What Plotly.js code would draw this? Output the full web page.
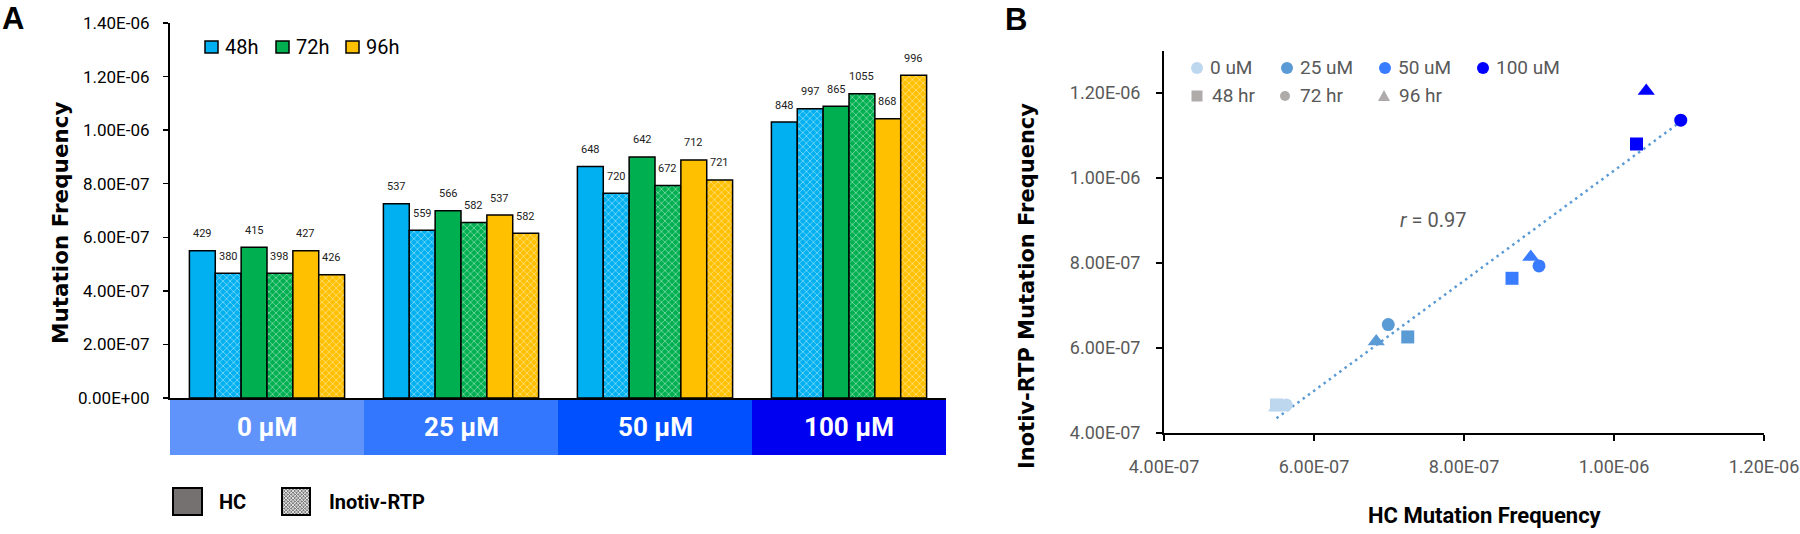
<!DOCTYPE html>
<html><head><meta charset="utf-8">
<script src="https://cdn.plot.ly/plotly-3.0.1.min.js"></script>
<style>html,body{margin:0;padding:0;background:#fff;}#chart{width:1800px;height:534px;}</style>
</head><body><div id="chart"></div>
<script>
// ---------- DATA ----------
const concentrations = ["0 µM", "25 µM", "50 µM", "100 µM"];
const concLegend = ["0 uM", "25 uM", "50 uM", "100 uM"];
const times = ["48h", "72h", "96h"];
const timeLegend = ["48 hr", "72 hr", "96 hr"];
const assays = ["HC", "Inotiv-RTP"];

// Mutation frequency per concentration (0, 25, 50, 100 µM)
const hc48  = [5.50e-7, 7.25e-7, 8.64e-7, 1.030e-6];
const rtp48 = [4.66e-7, 6.26e-7, 7.64e-7, 1.080e-6];
const hc72  = [5.63e-7, 6.99e-7, 9.00e-7, 1.089e-6];
const rtp72 = [4.66e-7, 6.55e-7, 7.93e-7, 1.136e-6];
const hc96  = [5.50e-7, 6.83e-7, 8.89e-7, 1.043e-6];
const rtp96 = [4.60e-7, 6.15e-7, 8.14e-7, 1.205e-6];

// Mutant counts shown above bars
const nHc48  = [429, 537, 648, 848];
const nRtp48 = [380, 559, 720, 997];
const nHc72  = [415, 566, 642, 865];
const nRtp72 = [398, 582, 672, 1055];
const nHc96  = [427, 537, 712, 868];
const nRtp96 = [426, 582, 721, 996];

const correlationText = "<i>r</i> = 0.97";

// Tick values / labels
const yTickValsA = [0, 2e-7, 4e-7, 6e-7, 8e-7, 1e-6, 1.2e-6, 1.4e-6];
const yTickTextA = ["0.00E+00", "2.00E-07", "4.00E-07", "6.00E-07", "8.00E-07", "1.00E-06", "1.20E-06", "1.40E-06"];
const xTickValsB = [4e-7, 6e-7, 8e-7, 1e-6, 1.2e-6];
const xTickTextB = ["4.00E-07", "6.00E-07", "8.00E-07", "1.00E-06", "1.20E-06"];
const yTickValsB = [4e-7, 6e-7, 8e-7, 1e-6, 1.2e-6];
const yTickTextB = ["4.00E-07", "6.00E-07", "8.00E-07", "1.00E-06", "1.20E-06"];

// ---------- STYLE ----------
const W = 1800, H = 534;
const PX = x => x / W;
const PY = y => 1 - y / H;
const timeColors = ["#00B0F0", "#00B050", "#FFC000"];
const bandColors = ["#6194FA", "#3377FF", "#0050FF", "#0000F0"];
const concColors = ["#BDD7EE", "#5B9BD5", "#3A7CFF", "#0000FF"];
const timeSymbols = ["square", "circle", "triangle-up"];
const timeSizes = [13, 13, 15];
const FONT = "Roboto, 'Noto Sans', sans-serif";
const GRAY = "#595959";

const series = [
  {y: hc48, n: nHc48, t: 0, rtp: false},
  {y: rtp48, n: nRtp48, t: 0, rtp: true},
  {y: hc72, n: nHc72, t: 1, rtp: false},
  {y: rtp72, n: nRtp72, t: 1, rtp: true},
  {y: hc96, n: nHc96, t: 2, rtp: false},
  {y: rtp96, n: nRtp96, t: 2, rtp: true}
];
const idx = concentrations.map((c, i) => i);
const bargap = 0.2;
const barW = (1 - bargap) / series.length;

const traces = [];
const annotations = [];
const shapes = [];

function ann(o) {
  return Object.assign({xref: "paper", yref: "paper", showarrow: false, xanchor: "center", yanchor: "middle"}, o);
}

series.forEach((s, k) => {
  const c = timeColors[s.t];
  const marker = {color: c, line: {color: "#000", width: 1.5}};
  if (s.rtp) marker.pattern = {shape: "x", fgcolor: "#ffffff", size: 5, solidity: 0.3, fillmode: "overlay"};
  traces.push({type: "bar", x: idx, y: s.y, xaxis: "x", yaxis: "y", marker: marker,
    showlegend: false, hoverinfo: "skip", name: times[s.t] + " " + (s.rtp ? assays[1] : assays[0])});
  s.y.forEach((v, i) => {
    annotations.push(ann({xref: "x", yref: "y", x: i - (1 - bargap) / 2 + (k + 0.5) * barW, y: v,
      yshift: 17, text: String(s.n[i]), font: {family: FONT, size: 11, color: "#222"}}));
  });
});

// category band under panel A
concentrations.forEach((c, i) => {
  shapes.push({type: "rect", xref: "x", yref: "paper", x0: i - 0.5, x1: i + 0.5, y0: PY(455), y1: PY(398),
    fillcolor: bandColors[i], line: {width: 0}, layer: "below"});
  annotations.push(ann({xref: "x", x: i, y: PY(427), text: "<b>" + c + "</b>",
    font: {family: FONT, size: 26, color: "#fff"}}));
});

// panel A time legend
const timeLegX = [205, 276, 346];
times.forEach((t, i) => {
  shapes.push({type: "rect", xref: "paper", yref: "paper", x0: PX(timeLegX[i]), x1: PX(timeLegX[i] + 13),
    y0: PY(53), y1: PY(41), fillcolor: timeColors[i], line: {color: "#000", width: 1.5}});
  annotations.push(ann({x: PX(timeLegX[i] + 18), y: PY(47), xanchor: "left",
    text: t, font: {family: FONT, size: 20, color: "#000"}}));
});

// panel A assay legend (HC solid, Inotiv-RTP hatched)
shapes.push({type: "rect", xref: "paper", yref: "paper", x0: PX(173), x1: PX(202), y0: PY(515), y1: PY(488),
  fillcolor: "#767171", line: {color: "#000", width: 2}});
shapes.push({type: "rect", xref: "paper", yref: "paper", x0: PX(282), x1: PX(310), y0: PY(515), y1: PY(488),
  fillcolor: "#7f7f7f", line: {width: 0}});
(function () {
  const bw = 28, bh = 27, step = 3.5;
  let p = "";
  for (let d = -bh; d <= bw; d += step) {
    const xa = Math.max(0, d), xb = Math.min(bw, bh + d);
    if (xb > xa) p += `M${xa},${xa - d}L${xb},${xb - d}`;
  }
  for (let d = 0; d <= bw + bh; d += step) {
    const xa = Math.max(0, d - bh), xb = Math.min(bw, d);
    if (xb > xa) p += `M${xa},${d - xa}L${xb},${d - xb}`;
  }
  shapes.push({type: "path", xref: "paper", yref: "paper", xsizemode: "pixel", ysizemode: "pixel",
    xanchor: PX(282), yanchor: PY(515), path: p, line: {color: "#e8e8e8", width: 0.9}});
})();
shapes.push({type: "rect", xref: "paper", yref: "paper", x0: PX(282), x1: PX(310), y0: PY(515), y1: PY(488),
  fillcolor: "rgba(0,0,0,0)", line: {color: "#000", width: 2}});
annotations.push(ann({x: PX(217), y: PY(502), xanchor: "left",
  text: "<b>" + assays[0] + "</b>", font: {family: FONT, size: 20, color: "#000"}}));
annotations.push(ann({x: PX(327), y: PY(502), xanchor: "left",
  text: "<b>" + assays[1] + "</b>", font: {family: FONT, size: 20, color: "#000"}}));

// ---------- PANEL B ----------
const hcAll = [hc48, hc72, hc96];
const rtpAll = [rtp48, rtp72, rtp96];
const xs = [].concat(...hcAll), ys = [].concat(...rtpAll);
const mx = xs.reduce((a, b) => a + b, 0) / xs.length;
const my = ys.reduce((a, b) => a + b, 0) / ys.length;
let sxy = 0, sxx = 0;
xs.forEach((x, i) => { sxy += (x - mx) * (ys[i] - my); sxx += (x - mx) * (x - mx); });
const slope = sxy / sxx, intercept = my - slope * mx;
const xmin = Math.min(...xs), xmax = Math.max(...xs);
traces.push({type: "scatter", mode: "lines", x: [xmin, xmax], y: [intercept + slope * xmin, intercept + slope * xmax],
  xaxis: "x2", yaxis: "y2", line: {color: "#5B9BD5", width: 2.5, dash: "2.5px,4px"}, showlegend: false, hoverinfo: "skip"});
timeLegend.forEach((t, ti) => {
  traces.push({type: "scatter", mode: "markers", x: hcAll[ti], y: rtpAll[ti], xaxis: "x2", yaxis: "y2",
    marker: {symbol: timeSymbols[ti], size: timeSizes[ti], color: concColors, line: {width: 0}},
    showlegend: false, name: t, hoverinfo: "skip"});
});

// panel B legend rows
const concLegX = [1197, 1287, 1385, 1483];
concLegend.forEach((c, i) => {
  shapes.push({type: "circle", xref: "paper", yref: "paper", xsizemode: "pixel", ysizemode: "pixel",
    xanchor: PX(concLegX[i]), yanchor: PY(68), x0: -6, x1: 6, y0: -6, y1: 6, fillcolor: concColors[i], line: {width: 0}});
  annotations.push(ann({x: PX(concLegX[i] + 11), y: PY(68), xanchor: "left",
    text: c, font: {family: FONT, size: 19, color: GRAY}}));
});
const timeLegBX = [1197, 1285, 1384];
const legGray = "#AFABAB";
const legPaths = ["M-5.5,-5.5L5.5,-5.5L5.5,5.5L-5.5,5.5Z", "", "M-6,-5L6,-5L0,6Z"];
timeLegend.forEach((t, i) => {
  if (i === 1) {
    shapes.push({type: "circle", xref: "paper", yref: "paper", xsizemode: "pixel", ysizemode: "pixel",
      xanchor: PX(timeLegBX[i]), yanchor: PY(96), x0: -5, x1: 5, y0: -5, y1: 5, fillcolor: legGray, line: {width: 0}});
  } else {
    shapes.push({type: "path", xref: "paper", yref: "paper", xsizemode: "pixel", ysizemode: "pixel",
      xanchor: PX(timeLegBX[i]), yanchor: PY(96), path: legPaths[i], fillcolor: legGray, line: {width: 0}});
  }
  annotations.push(ann({x: PX(timeLegBX[i] + 13), y: PY(95), xanchor: "left",
    text: t, font: {family: FONT, size: 19, color: GRAY}}));
});

annotations.push(ann({x: PX(1433), y: PY(220), text: correlationText,
  font: {family: FONT, size: 20, color: GRAY}}));

// titles / panel letters
annotations.push(ann({x: PX(0), y: PY(19), xanchor: "left", text: "<b>A</b>",
  font: {family: "'Liberation Sans', Arial, sans-serif", size: 31, color: "#000"}}));
annotations.push(ann({x: PX(1003), y: PY(20), xanchor: "left", text: "<b>B</b>",
  font: {family: "'Liberation Sans', Arial, sans-serif", size: 31, color: "#000"}}));
annotations.push(ann({x: PX(60), y: PY(223), textangle: -90, text: "<b>Mutation Frequency</b>",
  font: {family: "'DejaVu Sans', sans-serif", size: 21.5, color: "#000"}}));
annotations.push(ann({x: PX(1027), y: PY(286), textangle: -90, text: "<b>Inotiv-RTP Mutation Frequency</b>",
  font: {family: "'DejaVu Sans', sans-serif", size: 21, color: "#000"}}));
annotations.push(ann({x: PX(1485), y: PY(515), text: "<b>HC Mutation Frequency</b>",
  font: {family: FONT, size: 22, color: "#000"}}));

const layout = {
  width: W, height: H, margin: {l: 0, r: 0, t: 0, b: 0},
  paper_bgcolor: "#fff", plot_bgcolor: "rgba(0,0,0,0)",
  barmode: "group", bargap: bargap, bargroupgap: 0,
  showlegend: false,
  xaxis: {domain: [PX(170), PX(946)], range: [-0.5, 3.5], showticklabels: false, ticks: "", showgrid: false,
    zeroline: false, showline: true, linecolor: "#000", linewidth: 2, anchor: "y", fixedrange: true},
  yaxis: {domain: [PY(398), PY(23)], range: [0, 1.4e-6], tickvals: yTickValsA, ticktext: yTickTextA,
    ticks: "outside", ticklen: 5, tickwidth: 1.5, tickcolor: "#000", showgrid: false, zeroline: false,
    showline: true, linecolor: "#000", linewidth: 2, anchor: "x", ticklabelstandoff: 10,
    tickfont: {family: FONT, size: 17, color: "#000"}, fixedrange: true},
  xaxis2: {domain: [PX(1164), PX(1764)], range: [4e-7, 1.2e-6], tickvals: xTickValsB, ticktext: xTickTextB,
    ticks: "outside", ticklen: 6, tickwidth: 1.5, tickcolor: "#000", showgrid: false, zeroline: false,
    showline: true, linecolor: "#000", linewidth: 2, anchor: "y2", ticklabelstandoff: 10,
    tickfont: {family: FONT, size: 18, color: GRAY}, fixedrange: true},
  yaxis2: {domain: [PY(433), PY(50.5)], range: [4e-7, 1.3e-6], tickvals: yTickValsB, ticktext: yTickTextB,
    ticks: "outside", ticklen: 6, tickwidth: 1.5, tickcolor: "#000", showgrid: false, zeroline: false,
    showline: true, linecolor: "#000", linewidth: 2, anchor: "x2", ticklabelstandoff: 12,
    tickfont: {family: FONT, size: 18, color: GRAY}, fixedrange: true},
  shapes: shapes,
  annotations: annotations
};
Plotly.newPlot("chart", traces, layout, {staticPlot: true, displayModeBar: false});
</script>
</body></html>
